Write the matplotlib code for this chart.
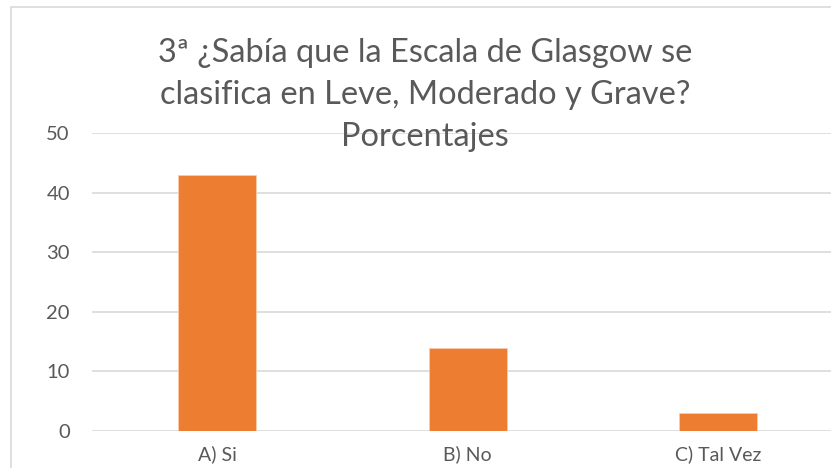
import matplotlib
matplotlib.use("Agg")
import matplotlib.pyplot as plt
from matplotlib.patches import Rectangle

categories = ["A) Si", "B) No", "C) Tal Vez"]
values = [43, 14, 3]
yticks = [0, 10, 20, 30, 40, 50]
title_lines = ["3ª ¿Sabía que la Escala de Glasgow se",
               "clasifica en Leve, Moderado y Grave?",
               "Porcentajes"]

W, H = 831, 468
fig = plt.figure(figsize=(W / 100, H / 100), dpi=100)
fig.patch.set_facecolor("white")

# chart border
fig.add_artist(Rectangle((10.5 / W, -0.1), 1.2, 1 - 7.5 / H + 0.1, transform=fig.transFigure,
                         fill=False, edgecolor="#D9D9D9", linewidth=1.2))

x0, y_zero, y_top = 92, 431, 133
ax = fig.add_axes([x0 / W, 1 - y_zero / H, (W - x0) / W, (y_zero - y_top) / H])
ax.set_facecolor("none")

x = list(range(len(categories)))
ax.bar(x, values, width=0.313, color="#ED7D31", edgecolor="#F8CBAD", linewidth=0.6, zorder=3)

unit = 250.5
ax.set_xlim(-0.5, (W - x0) / unit - 0.5)
ax.set_ylim(0, 50)
ax.set_yticks(yticks)
ax.set_xticks(x)
ax.set_xticklabels(categories)
ax.yaxis.grid(True, color="#D9D9D9", linewidth=1.2, zorder=0)
ax.set_axisbelow(True)
for s in ax.spines.values():
    s.set_visible(False)
ax.tick_params(axis="both", length=0, colors="#595959", labelsize=14.5)
ax.tick_params(axis="y", pad=16)
ax.tick_params(axis="x", pad=10.5, labelsize=14)
for lab in ax.get_xticklabels() + ax.get_yticklabels():
    lab.set_fontfamily("Lato")
    lab.set_color("#595959")

for line, yb in zip(title_lines, [62, 104, 146]):
    fig.text(425 / W, 1 - yb / H, line, ha="center", va="baseline", fontsize=23.4,
             color="#595959", family="Lato")

fig.savefig("out.png", dpi=100)
